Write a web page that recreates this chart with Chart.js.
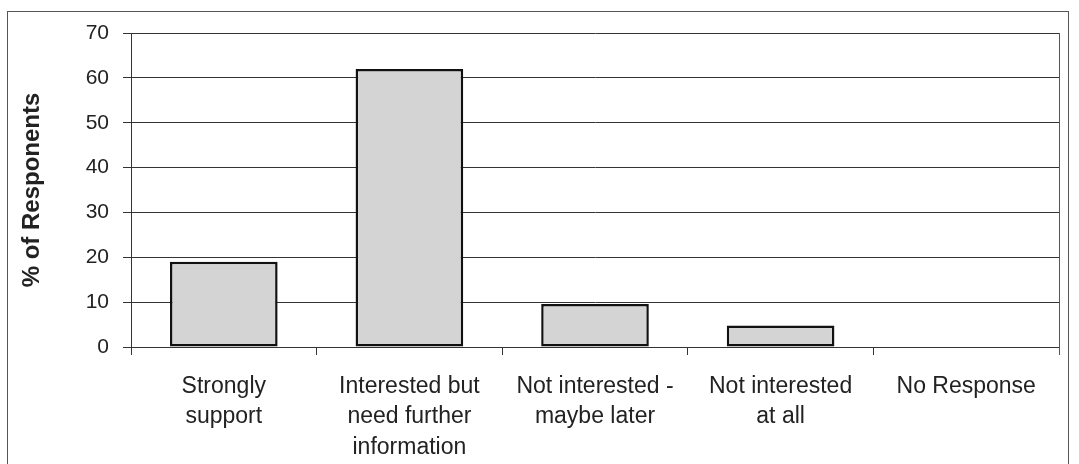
<!DOCTYPE html>
<html>
<head>
<meta charset="utf-8">
<script src="https://cdn.jsdelivr.net/npm/chart.js@4.4.1/dist/chart.umd.min.js"></script>
<style>
  html, body { margin: 0; padding: 0; background: #fff; }
  #wrap { position: relative; width: 1079px; height: 464px; }
  #frame { position: absolute; left: 7px; top: 11px; width: 1060px; height: 470px; border: 1px solid #555; }
  canvas { position: absolute; left: 0; top: 0; }
</style>
</head>
<body>
<div id="wrap">
  <div id="frame"></div>
  <canvas id="chart" width="1079" height="464"></canvas>
</div>
<script>
const categories = [
    ["Strongly", "support"],
    ["Interested but", "need further", "information"],
    ["Not interested -", "maybe later"],
    ["Not interested", "at all"],
    ["No Response"]
];
const responses = [19, 62, 9.6, 4.8, 0];
const yTicks = [0, 10, 20, 30, 40, 50, 60, 70];

const ink = '#222';
const lineCol = '#333';

// right border of the plot area, like the excel plot frame
const plotFrame = {
    id: 'plotFrame',
    afterDraw(chart) {
        const a = chart.chartArea;
        const c = chart.ctx;
        c.save();
        c.strokeStyle = '#555';
        c.lineWidth = 1;
        c.beginPath();
        c.moveTo(a.right + 0.5, a.top);
        c.lineTo(a.right + 0.5, a.bottom + 8);
        c.stroke();
        c.restore();
    }
};

new Chart(document.getElementById('chart').getContext('2d'), {
    type: 'bar',
    data: {
        labels: categories,
        datasets: [{
            data: responses,
            backgroundColor: '#d4d4d4',
            borderColor: '#111',
            borderWidth: 2.5,
            borderSkipped: false,
            categoryPercentage: 1,
            barPercentage: 0.58
        }]
    },
    options: {
        responsive: false,
        animation: false,
        layout: { padding: { left: 0, top: 33, right: 20, bottom: 0 } },
        plugins: {
            legend: { display: false },
            tooltip: { enabled: false }
        },
        scales: {
            x: {
                afterFit: function (scale) { scale.height = 117; },
                grid: {
                    offset: true,
                    drawOnChartArea: false,
                    tickLength: 8,
                    color: lineCol
                },
                border: { color: lineCol, width: 1 },
                ticks: {
                    color: ink,
                    padding: 16,
                    maxRotation: 0,
                    autoSkip: false,
                    font: { family: 'Liberation Sans, Arial', size: 23, lineHeight: 1.33 }
                }
            },
            y: {
                min: 0,
                max: 70,
                afterFit: function (scale) { scale.width = 131; },
                afterBuildTicks: function (scale) {
                    scale.ticks = yTicks.map(function (v) { return { value: v }; });
                },
                grid: {
                    color: lineCol,
                    tickLength: 8
                },
                border: { color: lineCol, width: 1 },
                ticks: {
                    color: ink,
                    padding: 14,
                    font: { family: 'Liberation Sans, Arial', size: 21 }
                },
                title: {
                    display: true,
                    text: '% of Responents',
                    color: ink,
                    padding: { top: 18, bottom: 0 },
                    font: { family: 'Liberation Sans, Arial', size: 24, weight: 'bold' }
                }
            }
        }
    },
    plugins: [plotFrame]
});
</script>
</body>
</html>
